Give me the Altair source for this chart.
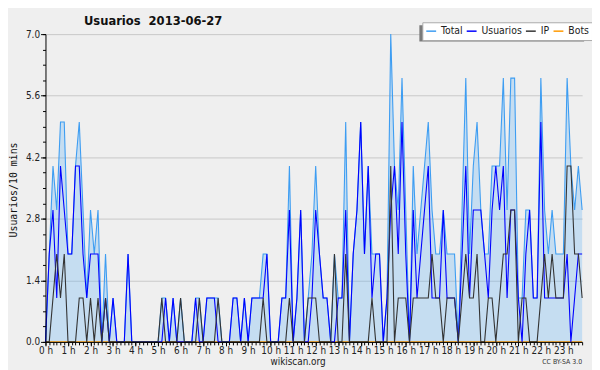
import altair as alt
import pandas as pd

series_names = ["Total", "Usuarios", "IP", "Bots"]
series_colors = ["#3d9df2", "#0000ff", "#333333", "#ff9900"]
fill_color = "#64b4f6"

slot_minutes = list(range(0, 1440, 10))

total = [0, 2, 4, 3, 5, 5, 2, 2, 4, 5, 3, 1, 3, 2, 3, 0, 2, 0, 1, 0, 0, 0, 2, 0,
         0, 0, 0, 0, 0, 0, 0, 1, 1, 0, 1, 0, 1, 0, 0, 0, 1, 1, 0, 1, 1, 1, 1, 0,
         0, 0, 1, 1, 0, 1, 0, 1, 1, 1, 2, 2, 0, 0, 0, 1, 1, 4, 0, 1, 3, 0, 1, 2,
         4, 2, 1, 1, 0, 2, 1, 1, 5, 0, 2, 3, 5, 2, 4, 2, 2, 2, 0, 1, 7, 4, 3, 6,
         3, 0, 4, 2, 3, 4, 5, 3, 2, 2, 3, 2, 2, 2, 0, 3, 6, 2, 4, 5, 3, 2, 2, 4,
         4, 4, 6, 3, 6, 6, 1, 1, 3, 3, 1, 1, 6, 3, 2, 3, 2, 2, 2, 6, 4, 3, 4, 3]

usuarios = [0, 2, 3, 1, 4, 3, 2, 2, 4, 4, 2, 1, 2, 2, 2, 0, 1, 0, 1, 0, 0, 0, 2, 0,
            0, 0, 0, 0, 0, 0, 0, 0, 1, 0, 1, 0, 0, 0, 0, 0, 1, 0, 0, 1, 1, 1, 0, 0,
            0, 0, 1, 1, 0, 1, 0, 1, 1, 1, 1, 2, 0, 0, 0, 1, 1, 3, 0, 1, 3, 0, 0, 1,
            3, 2, 1, 1, 0, 0, 1, 1, 3, 0, 2, 3, 5, 2, 4, 1, 2, 2, 0, 1, 3, 4, 2, 5,
            2, 0, 3, 1, 2, 3, 4, 1, 1, 1, 3, 1, 1, 1, 0, 2, 4, 1, 3, 3, 3, 2, 1, 3,
            4, 3, 4, 1, 3, 3, 1, 0, 2, 3, 1, 1, 5, 1, 1, 1, 1, 1, 1, 2, 0, 1, 2, 2]

ip = [0, 0, 1, 2, 1, 2, 0, 0, 0, 1, 1, 0, 1, 0, 1, 0, 1, 0, 0, 0, 0, 0, 0, 0,
      0, 0, 0, 0, 0, 0, 0, 1, 0, 0, 0, 0, 1, 0, 0, 0, 0, 1, 0, 0, 0, 0, 1, 0,
      0, 0, 0, 0, 0, 0, 0, 0, 0, 0, 1, 0, 0, 0, 0, 0, 0, 1, 0, 0, 0, 0, 1, 1,
      1, 0, 0, 0, 0, 2, 0, 0, 2, 0, 0, 0, 0, 0, 0, 1, 0, 0, 0, 0, 4, 0, 1, 1,
      1, 0, 1, 1, 1, 1, 1, 2, 1, 1, 0, 1, 1, 1, 0, 1, 2, 1, 1, 2, 0, 0, 1, 1,
      0, 1, 2, 2, 3, 3, 0, 1, 1, 0, 0, 0, 1, 2, 1, 2, 1, 1, 1, 4, 4, 2, 2, 1]

bots = [0, 0, 0, 0, 0, 0, 0, 0, 0, 0, 0, 0, 0, 0, 0, 0, 0, 0, 0, 0, 0, 0, 0, 0,
        0, 0, 0, 0, 0, 0, 0, 0, 0, 0, 0, 0, 0, 0, 0, 0, 0, 0, 0, 0, 0, 0, 0, 0,
        0, 0, 0, 0, 0, 0, 0, 0, 0, 0, 0, 0, 0, 0, 0, 0, 0, 0, 0, 0, 0, 0, 0, 0,
        0, 0, 0, 0, 0, 0, 0, 0, 0, 0, 0, 0, 0, 0, 0, 0, 0, 0, 0, 0, 0, 0, 0, 0,
        0, 0, 0, 0, 0, 0, 0, 0, 0, 0, 0, 0, 0, 0, 0, 0, 0, 0, 0, 0, 0, 0, 0, 0,
        0, 0, 0, 0, 0, 0, 0, 0, 0, 0, 0, 0, 0, 0, 0, 0, 0, 0, 0, 0, 0, 0, 0, 0]

hour_ticks = list(range(0, 24))
y_ticks = [0.0, 1.4, 2.8, 4.2, 5.6, 7.0]
y_minor_ticks = [round(0.35 * k, 2) for k in range(21)]
x_minor_ticks = [m / 60 for m in slot_minutes]

title_text = "Usuarios\u00a0\u00a02013-06-27"
y_title = "Usuarios/10 mins"
source_text = "wikiscan.org"
license_text = "CC BY-SA 3.0"

rows = []
for name, vals in zip(series_names, [total, usuarios, ip, bots]):
    for m, v in zip(slot_minutes, vals):
        rows.append({"minute": m, "series": name, "value": v})
df = pd.DataFrame(rows)

FONT = "DejaVu Sans Condensed, DejaVu Sans, sans-serif"
x_dom = [0, slot_minutes[-1] / 60]

base = alt.Chart(df).transform_calculate(t="datum.minute / 60")

x_major = alt.X("t:Q", scale=alt.Scale(domain=x_dom, nice=False, zero=False),
                axis=alt.Axis(values=hour_ticks, labelExpr="datum.value + ' h'",
                              orient="bottom", domain=False, grid=False, tickSize=4,
                              tickColor="#000", labelFontSize=10, labelFont=FONT,
                              labelColor="#222", labelPadding=0, title=None,
                              labelFlush=False, labelOverlap=False))
y_major = alt.Y("value:Q", scale=alt.Scale(domain=[0, 7], nice=False),
                axis=alt.Axis(values=y_ticks, format=".1f", orient="left",
                              domain=False, grid=True, gridColor="#c8c8c8",
                              tickSize=5, tickColor="#000", labelFontSize=10,
                              labelFont=FONT, labelColor="#222", labelPadding=1,
                              title=None))

x_minor = alt.X("t:Q", scale=alt.Scale(domain=x_dom, nice=False, zero=False),
                axis=alt.Axis(values=x_minor_ticks, orient="bottom", labels=False,
                              domain=True, domainColor="#000", grid=False,
                              tickSize=3, tickColor="#000", title=None, zindex=1))
y_minor = alt.Y("value:Q", scale=alt.Scale(domain=[0, 7], nice=False),
                axis=alt.Axis(values=y_minor_ticks, orient="left", labels=False,
                              domain=True, domainColor="#000", grid=False,
                              tickSize=3, tickColor="#000", title=None, zindex=1))

color = alt.Color("series:N",
                  scale=alt.Scale(domain=series_names, range=series_colors),
                  legend=alt.Legend(orient="none", legendX=382, legendY=-12,
                                    direction="horizontal", title=None,
                                    gridAlign="none",
                                    symbolType="stroke", symbolSize=100,
                                    symbolStrokeWidth=1.5, labelFontSize=10.5,
                                    labelFont=FONT, labelColor="#222",
                                    fillColor="white", strokeColor="#aaaaaa",
                                    padding=3, columnPadding=1, labelOffset=4))

area = base.transform_filter("datum.series == 'Total'").mark_area(
    color=fill_color, opacity=0.3, interpolate="linear"
).encode(x=x_major, y=y_major)

def line_layer(name, first=False):
    enc = dict(color=color)
    if first:
        enc["x"] = x_minor
        enc["y"] = y_minor
    else:
        enc["x"] = alt.X("t:Q", axis=None)
        enc["y"] = alt.Y("value:Q", axis=None)
    return base.transform_filter(f"datum.series == '{name}'").mark_line(
        strokeWidth=1.1, interpolate="linear").encode(**enc)

shadow = alt.Chart(pd.DataFrame({"k": [0]})).mark_rect(color="#7a7a7a").encode(
    x=alt.value(379), x2=alt.value(546), y=alt.value(-9), y2=alt.value(7.5))

def note(text, x, y, **kw):
    return alt.Chart(pd.DataFrame({"label": [text]})).mark_text(**kw).encode(
        text="label:N", x=alt.value(x), y=alt.value(y))

title = note(title_text, 39, -9, fontSize=13, fontWeight="bold", font=FONT,
             align="left", baseline="alphabetic", color="#111")
ytitle = note(y_title, -32, 158, fontSize=10, font="DejaVu Sans Mono",
              angle=270, align="center", baseline="middle", color="#111")
src = note(source_text, 256, 335, fontSize=10, font=FONT, align="center",
           baseline="alphabetic", color="#222")
lic = note(license_text, 544, 334, fontSize=7, font=FONT, align="right",
           baseline="alphabetic", color="#333")

chart = alt.layer(
    area,
    line_layer("Bots", first=True),
    line_layer("Total"),
    line_layer("Usuarios"),
    line_layer("IP"),
    shadow, title, ytitle, src, lic,
).resolve_axis(x="independent", y="independent").properties(
    width=544, height=312,
    autosize=alt.AutoSizeParams(type="none"),
    padding={"left": 38, "top": 24, "right": 10, "bottom": 26},
    background="#efefef",
).configure_view(stroke=None)

chart.save("out.html", embed_options={"renderer": "svg", "actions": False})
